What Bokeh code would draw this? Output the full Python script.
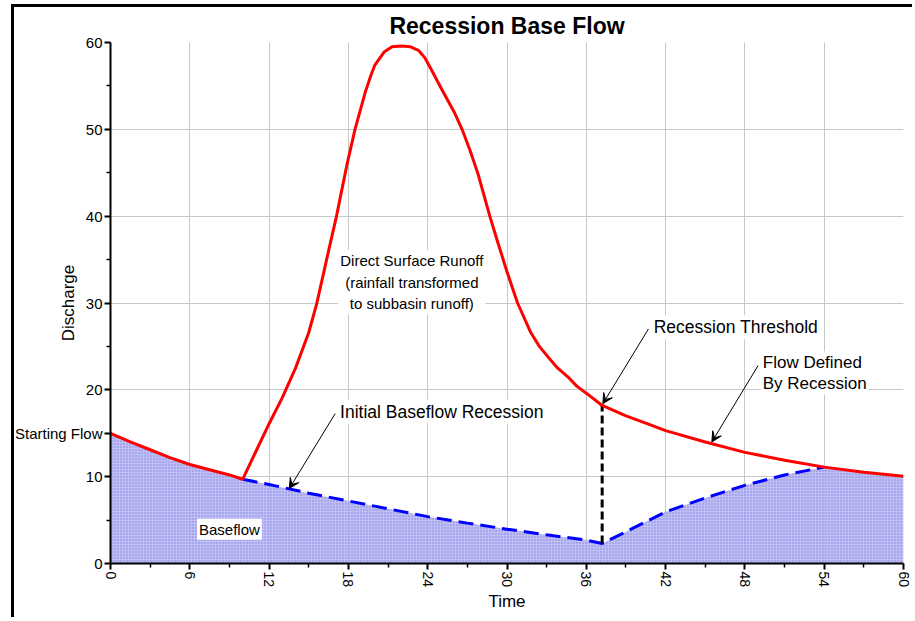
from bokeh.plotting import figure
from bokeh.models import Range1d, FixedTicker, Label, Arrow, VeeHead
from bokeh.embed import file_html
from bokeh.resources import INLINE

# ---- data ----
# red hydrograph: initial recession (starting flow -> runoff begins)
start_t = [0, 1.5, 3, 4.5, 6, 7.5, 9, 10]
start_q = [15.0, 14.0, 13.1, 12.2, 11.4, 10.8, 10.2, 9.7]
# direct surface runoff part
runoff_t = [10, 11, 12, 13, 14, 15, 15.6, 16.5, 17.1, 17.9, 18.5, 19.3, 19.7, 20.0, 20.7,
            21.3, 22.0, 22.7, 23.3, 23.8, 24.3, 25.1, 26.0, 26.6, 27.2, 27.8, 28.7,
            29.3, 30.0, 30.8, 31.8, 32.45, 33.1, 33.8, 34.6, 35.3, 36.1, 37.2]
runoff_q = [9.7, 12.9, 16.1, 19.1, 22.5, 26.6, 29.9, 36.0, 40.0, 46.0, 50.0, 54.4, 56.2, 57.4, 58.9,
            59.5, 59.6, 59.5, 59.1, 58.2, 56.8, 54.5, 52.0, 50.0, 47.6, 44.9, 40.0,
            37.0, 33.6, 30.0, 26.6, 25.0, 23.8, 22.55, 21.5, 20.4, 19.5, 18.2]
# flow defined by recession after threshold
rec_t = [37.2, 39, 40.6, 42, 45, 48, 51, 54, 57, 60]
rec_q = [18.2, 17.0, 16.1, 15.3, 14.0, 12.8, 11.9, 11.1, 10.5, 10.05]
# initial baseflow recession (blue dashed, falling)
base_t = [10, 12, 15, 18, 21, 24, 27, 30, 33, 36, 37.2]
base_q = [9.7, 9.1, 8.1, 7.2, 6.3, 5.4, 4.65, 3.95, 3.3, 2.7, 2.3]
# baseflow rising back to the recession curve
rise_t = [37.2, 39, 42, 45, 48, 51, 54]
rise_q = [2.3, 3.65, 5.95, 7.55, 9.0, 10.2, 11.1]

x_ticks = [0, 6, 12, 18, 24, 30, 36, 42, 48, 54, 60]
x_minor = [3, 9, 15, 21, 27, 33, 39, 45, 51, 57]
y_ticks = [0, 10, 20, 30, 40, 50, 60]
y_minor = [5, 25, 35, 45, 55]
starting_flow_tick = 15
starting_flow_label = "Starting Flow"

# ---- derived series ----
red_t = start_t + runoff_t[1:] + rec_t[1:]
red_q = start_q + runoff_q[1:] + rec_q[1:]
blue_t = base_t + rise_t[1:]
blue_q = base_q + rise_q[1:]
k = rec_t.index(rise_t[-1])
fill_t = start_t + base_t[1:] + rise_t[1:] + rec_t[k + 1:]
fill_q = start_q + base_q[1:] + rise_q[1:] + rec_q[k + 1:]

FONT = "Liberation Sans"

p = figure(width=901, height=613, output_backend="svg", toolbar_location=None,
           x_range=Range1d(0, 60), y_range=Range1d(0, 60),
           min_border_left=96, min_border_right=12, min_border_top=35, min_border_bottom=57,
           title="Recession Base Flow")
p.styles = {"border-left": "3px solid black", "border-top": "3px solid black",
            "margin-left": "11px", "margin-top": "4px"}
p.outline_line_color = None
p.background_fill_color = "white"
p.border_fill_color = "white"

p.title.text_font = FONT
p.title.text_font_size = "23px"
p.title.text_font_style = "bold"
p.title.align = "center"
p.title.text_color = "black"
p.title.standoff = 3
p.title.vertical_align = "top"

for ax in (p.xaxis[0], p.yaxis[0]):
    ax.axis_line_width = 2
    ax.axis_line_color = "black"
    ax.major_tick_line_width = 2
    ax.minor_tick_line_width = 1.5
    ax.major_tick_out = 6
    ax.major_tick_in = 0
    ax.minor_tick_out = 4
    ax.minor_tick_in = 0
    ax.major_label_text_font = FONT
    ax.major_label_text_font_size = "15px"
    ax.major_label_text_color = "black"
    ax.major_label_standoff = 2
    ax.axis_label_text_font = FONT
    ax.axis_label_text_font_size = "17px"
    ax.axis_label_text_font_style = "normal"
    ax.axis_label_text_color = "black"

p.xaxis.ticker = FixedTicker(ticks=x_ticks, minor_ticks=x_minor)
p.xaxis.major_label_orientation = "vertical"
p.xaxis.major_label_text_font_size = "14px"
p.xaxis.axis_label = "Time"
p.xaxis.axis_label_standoff = 2

p.yaxis.ticker = FixedTicker(ticks=y_ticks + [starting_flow_tick], minor_ticks=y_minor)
p.yaxis.major_label_overrides = {starting_flow_tick: starting_flow_label}
p.yaxis.axis_label = "Discharge"
p.yaxis.axis_label_standoff = -66

p.xgrid.ticker = FixedTicker(ticks=x_ticks)
p.ygrid.ticker = FixedTicker(ticks=y_ticks)
p.grid.grid_line_color = "#c8c8c8"
p.grid.grid_line_width = 1

# baseflow area
p.varea(x=fill_t, y1=0, y2=fill_q, fill_color="#b4b4f2", fill_alpha=0.85,
        hatch_pattern="dot", hatch_color="#8080e8", hatch_scale=3, hatch_weight=1)

# baseflow line
p.line(blue_t, blue_q, line_color="#0000ff", line_width=3, line_dash="15 7")
# recession threshold
p.segment(x0=[rise_t[0]], y0=[rise_q[0]], x1=[rise_t[0]], y1=[rec_q[0]],
          line_color="black", line_width=3, line_dash="8 4")
# total hydrograph
p.line(red_t, red_q, line_color="#ff0000", line_width=3, line_join="round")

def lab(x, y, text, size, align="left", lh=1.2, **kw):
    p.add_layout(Label(x=x, y=y, text=text, text_font=FONT, text_font_size=size,
                       text_align=align, text_baseline="middle", text_color="black",
                       text_line_height=lh, **kw))

bg = dict(background_fill_color="white", padding=2)
lab(22.8, 32.4, "Direct Surface Runoff\n(rainfall transformed\nto subbasin runoff)", "15px",
    align="center", lh=1.27, **bg)
lab(17.22, 17.5, "Initial Baseflow Recession", "17.5px", **bg)
lab(40.95, 27.2, "Recession Threshold", "17.5px", **bg)
lab(49.2, 21.95, "Flow Defined\nBy Recession", "17px", lh=1.08, **bg)
lab(9.0, 3.95, "Baseflow", "15px", align="center", **bg)

def arrow(x0, y0, x1, y1):
    p.add_layout(Arrow(x_start=x0, y_start=y0, x_end=x1, y_end=y1,
                       line_color="black", line_width=1,
                       end=VeeHead(size=10, fill_color="black", line_color="black", line_width=1)))

arrow(17.0, 17.26, 13.53, 8.63)
arrow(40.7, 27.0, 37.25, 18.4)
arrow(49.0, 22.8, 45.5, 14.0)

open("out.html", "w").write(file_html(p, INLINE))
